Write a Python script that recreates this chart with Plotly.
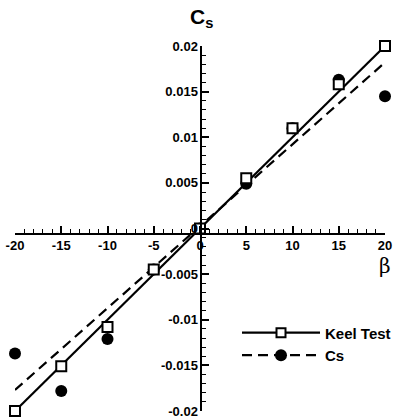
import plotly.graph_objects as go

# Data
beta = [-20, -15, -10, -5, 0, 5, 10, 15, 20]
keel_test = [-0.02, -0.0151, -0.0108, -0.0045, 0.0, 0.0055, 0.011, 0.0158, 0.02]
cs_points = [-0.0137, -0.0178, -0.0121, -0.0045, 0.0, 0.0049, 0.011, 0.0163, 0.0145]

# Fitted straight lines (end points)
fit_x = [-20, 20]
keel_fit = [-0.02, 0.02]
cs_fit = [-0.0177, 0.0182]

x_ticks = [-20, -15, -10, -5, 0, 5, 10, 15, 20]
x_ticktext = ["-20", "-15", "-10", "-5", "0", "5", "10", "15", "20"]
y_ticks = [-0.02, -0.015, -0.01, -0.005, 0, 0.005, 0.01, 0.015, 0.02]
y_ticktext = ["-0.02", "-0.015", "-0.01", "-0.005", "0", "0.005", "0.01", "0.015", "0.02"]

FONT = "Liberation Sans, Arial, sans-serif"

fig = go.Figure()

fig.add_trace(go.Scatter(x=fit_x, y=keel_fit, mode="lines",
                         line=dict(color="black", width=2.2),
                         showlegend=False, cliponaxis=False))
fig.add_trace(go.Scatter(x=fit_x, y=cs_fit, mode="lines",
                         line=dict(color="black", width=2.2, dash="10px,6px"),
                         showlegend=False, cliponaxis=False))
fig.add_trace(go.Scatter(x=beta, y=cs_points, mode="markers",
                         marker=dict(symbol="circle", size=12, color="black"),
                         showlegend=False, cliponaxis=False))
fig.add_trace(go.Scatter(x=beta, y=keel_test, mode="markers",
                         marker=dict(symbol="square", size=10, color="white",
                                     line=dict(width=2, color="black")),
                         showlegend=False, cliponaxis=False))

# legend entries
fig.add_trace(go.Scatter(x=[None], y=[None], mode="lines+markers", name="Keel Test",
                         line=dict(color="black", width=2.2),
                         marker=dict(symbol="square", size=9, color="white",
                                     line=dict(width=2, color="black"))))
fig.add_trace(go.Scatter(x=[None], y=[None], mode="lines+markers", name="Cs",
                         line=dict(color="black", width=2.2, dash="10px,6px"),
                         marker=dict(symbol="circle", size=12, color="black")))

tickfont = dict(family=FONT, size=13, color="black", weight="bold")

fig.update_layout(
    width=405, height=420,
    margin=dict(l=15, r=20, t=46, b=9),
    paper_bgcolor="white", plot_bgcolor="white",
    xaxis=dict(range=[-20, 20], anchor="free", position=0.486, automargin=False,
               showgrid=False, zeroline=False, ticklabeloverflow="allow",
               showline=True, linecolor="black", linewidth=2,
               tickmode="array", tickvals=x_ticks, ticktext=x_ticktext,
               ticks="inside", ticklen=7, tickwidth=1.5, tickcolor="black",
               tickfont=tickfont,
               minor=dict(dtick=1, ticks="inside", ticklen=4, tickwidth=1, tickcolor="black")),
    yaxis=dict(range=[-0.02, 0.02], anchor="free", position=0.504, automargin=False,
               showgrid=False, zeroline=False, ticklabeloverflow="allow",
               showline=True, linecolor="black", linewidth=2,
               tickmode="array", tickvals=y_ticks, ticktext=y_ticktext,
               ticks="inside", ticklen=7, tickwidth=1.5, tickcolor="black",
               tickfont=tickfont,
               minor=dict(dtick=0.001, ticks="inside", ticklen=4, tickwidth=1, tickcolor="black")),
    legend=dict(x=0.6, y=0.259, xanchor="left", yanchor="top",
                bgcolor="rgba(0,0,0,0)", itemwidth=78,
                font=dict(family=FONT, size=15, color="black", weight="bold"),
                tracegroupgap=0, itemclick=False),
    annotations=[
        dict(text="C<sub>s</sub>", x=0.505, y=1.035, xref="paper", yref="paper",
             xanchor="center", yanchor="bottom", showarrow=False,
             font=dict(family=FONT, size=21, color="black", weight="bold")),
        dict(text="β", x=1.0, y=0.398, xref="paper", yref="paper",
             xanchor="center", yanchor="middle", showarrow=False,
             font=dict(family="DejaVu Serif, serif", size=20, color="black")),
    ],
)

fig.write_html("out.html", config={"displayModeBar": False},
               post_script="document.body.style.margin='0';")
